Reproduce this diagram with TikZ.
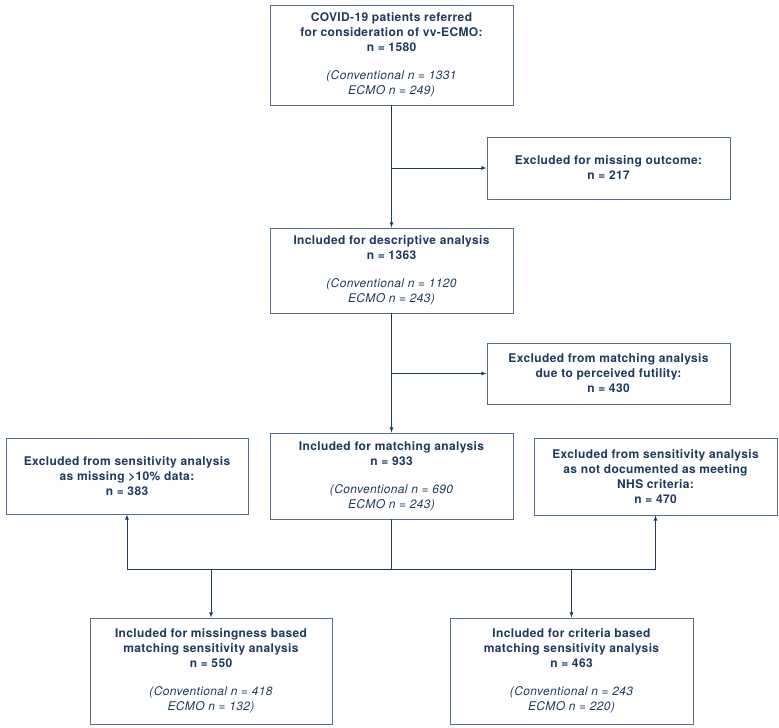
\documentclass[tikz,border=0pt]{standalone}
\usepackage{fontspec}
\setmainfont[LetterSpace=3]{TeX Gyre Heros}
\usepackage{tikz}
\usetikzlibrary{arrows, shapes}

\definecolor{navy}{HTML}{1E3A5F}
\definecolor{boxline}{HTML}{55708F}
\newcommand{\armtxt}[1]{{\mdseries\itshape #1}}

\begin{document}
\begin{tikzpicture}[x=1pt, y=-1pt,
	flowbox/.style={draw=boxline, line width=0.9pt, rectangle, align=center,
		text=navy, font=\bfseries\fontsize{12}{15}\selectfont,
		inner sep=0pt, minimum width=243pt},
	flowline/.style={draw=navy, line width=0.8pt},
	flowarrow/.style={flowline, ->, >=latex}
	]
	\useasboundingbox (0,0) rectangle (779,728);
	% main column
	\node[flowbox, minimum height=100pt] (referred) at (391.5,55)
	{COVID-19 patients referred\\for consideration of vv-ECMO:\\n = 1580\\[13pt]
		\armtxt{(Conventional n = 1331}\\\armtxt{ECMO n = 249)}};
	\node[flowbox, minimum height=85pt] (descr) at (391.5,270.5)
	{Included for descriptive analysis\\n = 1363\\[13pt]
		\armtxt{(Conventional n = 1120}\\\armtxt{ECMO n = 243)}};
	\node[flowbox, minimum height=86pt] (matching) at (391.5,476)
	{Included for matching analysis\\n = 933\\[13pt]
		\armtxt{(Conventional n = 690}\\\armtxt{ECMO n = 243)}};
	% exclusions
	\node[flowbox, minimum height=62pt] (missing) at (608.5,168)
	{Excluded for missing outcome:\\n = 217};
	\node[flowbox, minimum height=61pt] (futile) at (608.5,373.5)
	{Excluded from matching analysis\\due to perceived futility:\\n = 430};
	\node[flowbox, minimum height=76pt, minimum width=242pt] (sensmiss) at (127,476)
	{Excluded from sensitivity analysis\\as missing >10\% data:\\n = 383};
	\node[flowbox, minimum height=77pt] (sensnhs) at (655.5,476.5)
	{Excluded from sensitivity analysis\\as not documented as meeting\\NHS criteria:\\n = 470};
	% sensitivity cohorts
	\node[flowbox, minimum height=106pt, minimum width=242pt] (incmiss) at (211,671)
	{Included for missingness based\\matching sensitivity analysis\\n = 550\\[13pt]
		\armtxt{(Conventional n = 418}\\\armtxt{ECMO n = 132)}};
	\node[flowbox, minimum height=106pt] (inccrit) at (571.5,671)
	{Included for criteria based\\matching sensitivity analysis\\n = 463\\[13pt]
		\armtxt{(Conventional n = 243}\\\armtxt{ECMO n = 220)}};

	\coordinate (split1) at (referred.south |- missing.west);
	\coordinate (split2) at (descr.south |- futile.west);
	\coordinate (bus) at (391.5,569);
	\coordinate (busL) at (incmiss.north |- bus);
	\coordinate (busR) at (inccrit.north |- bus);

	\draw[flowarrow] (referred) -- (descr);
	\draw[flowarrow] (split1) -- (missing);
	\draw[flowarrow] (descr) -- (matching);
	\draw[flowarrow] (split2) -- (futile);
	\draw[flowline] (matching) -- (bus);
	\draw[flowarrow] (bus) -| (sensmiss);
	\draw[flowarrow] (bus) -| (sensnhs);
	\draw[flowarrow] (busL) -- (incmiss);
	\draw[flowarrow] (busR) -- (inccrit);
\end{tikzpicture}
\end{document}
